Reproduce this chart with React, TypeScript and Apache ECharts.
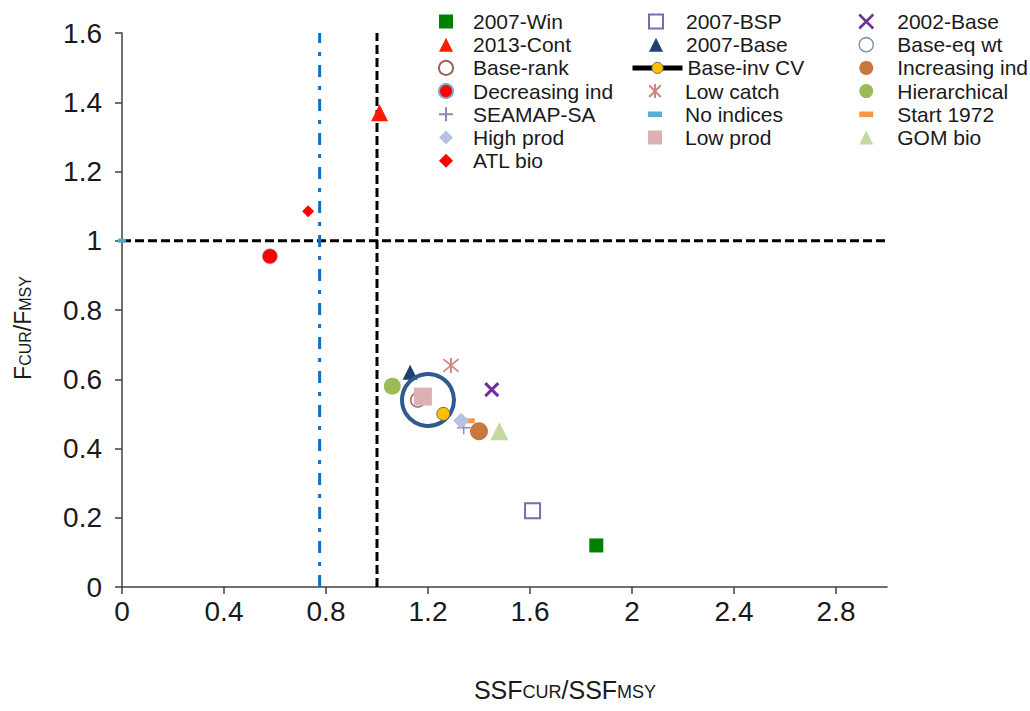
import React, { useEffect, useRef } from 'react';
import * as echarts from 'echarts';

// ---- data ----
const seriesNames = [
  '2007-Win', '2007-BSP', '2002-Base', '2013-Cont', '2007-Base', 'Base-eq wt',
  'Base-rank', 'Base-inv CV', 'Increasing ind', 'Decreasing ind', 'Low catch',
  'Hierarchical', 'SEAMAP-SA', 'No indices', 'Start 1972', 'High prod',
  'Low prod', 'GOM bio', 'ATL bio',
];
const ssfRatio = [1.86, 1.61, 1.45, 1.01, 1.13, 1.2, 1.16, 1.26, 1.4, 0.58, 1.29, 1.06, 1.34, 0.0, 1.36, 1.33, 1.18, 1.48, 0.73];
const fRatio = [0.12, 0.22, 0.57, 1.37, 0.62, 0.54, 0.54, 0.5, 0.45, 0.955, 0.64, 0.58, 0.46, 1.0, 0.48, 0.48, 0.55, 0.45, 1.085];

const xTicks = [0, 0.4, 0.8, 1.2, 1.6, 2, 2.4, 2.8];
const yTicks = [0, 0.2, 0.4, 0.6, 0.8, 1, 1.2, 1.4, 1.6];
const xMax = 3;
const yMax = 1.6;

const legendCol1 = ['2007-Win', '2013-Cont', 'Base-rank', 'Decreasing ind', 'SEAMAP-SA', 'High prod', 'ATL bio'];
const legendCol2a = ['2007-BSP', '2007-Base'];
const legendCol2b = ['Base-inv CV'];
const legendCol2c = ['Low catch', 'No indices', 'Low prod'];
const legendCol3 = ['2002-Base', 'Base-eq wt', 'Increasing ind', 'Hierarchical', 'Start 1972', 'GOM bio'];

const refSsf = 1.0;      // vertical black dashed
const refF = 1.0;        // horizontal black dashed
const msstSsf = 0.775;   // blue dash-dot

// ---- styles ----
const X_SYM = 'path://M0,0L10,10M10,0L0,10';
const STAR_SYM = 'path://M0,0L10,10M10,0L0,10M5,-1L5,11';
const PLUS_SYM = 'path://M5,0L5,10M0,5L10,5';
const DASH_SYM = 'path://M0,0L10,0L10,4L0,4Z';

const markerStyles: Record<string, any> = {
  '2007-Win': { symbol: 'rect', size: 14, itemStyle: { color: '#008000' } },
  '2007-BSP': { symbol: 'rect', size: 15, itemStyle: { color: 'rgba(255,255,255,0)', borderColor: '#7070b0', borderWidth: 2 } },
  '2002-Base': { symbol: X_SYM, size: 13, itemStyle: { color: '#7030a0', borderColor: '#7030a0', borderWidth: 3 } },
  '2013-Cont': { symbol: 'triangle', size: 17, itemStyle: { color: '#ff1a00' } },
  '2007-Base': { symbol: 'triangle', size: 15, itemStyle: { color: '#1f3f6e' } },
  'Base-eq wt': { symbol: 'circle', size: 52, itemStyle: { color: 'rgba(255,255,255,0)', borderColor: '#2f5a8e', borderWidth: 4 } },
  'Base-rank': { symbol: 'circle', size: 14, itemStyle: { color: 'rgba(255,255,255,0)', borderColor: '#a0605c', borderWidth: 1.5 } },
  'Base-inv CV': { symbol: 'circle', size: 13, itemStyle: { color: '#ffc000', borderColor: '#6b6b6b', borderWidth: 1 } },
  'Increasing ind': { symbol: 'circle', size: 18, itemStyle: { color: '#c8783c' } },
  'Decreasing ind': { symbol: 'circle', size: 15, itemStyle: { color: '#ff0000', borderColor: '#7aa6c8', borderWidth: 0.6 } },
  'Low catch': { symbol: STAR_SYM, size: 15, itemStyle: { color: '#d08484', borderColor: '#d08484', borderWidth: 1.8 } },
  'Hierarchical': { symbol: 'circle', size: 17, itemStyle: { color: '#9bbb59' } },
  'SEAMAP-SA': { symbol: PLUS_SYM, size: 13, itemStyle: { color: '#9484b8', borderColor: '#9484b8', borderWidth: 1.5 } },
  'No indices': { symbol: DASH_SYM, size: [8, 4], itemStyle: { color: '#4bacc6' } },
  'Start 1972': { symbol: DASH_SYM, size: [12, 5], itemStyle: { color: '#f79646' } },
  'High prod': { symbol: 'diamond', size: 16, itemStyle: { color: '#b4c4e0' } },
  'Low prod': { symbol: 'rect', size: 18, itemStyle: { color: '#dcb0b4' } },
  'GOM bio': { symbol: 'triangle', size: 18, itemStyle: { color: '#c4d8a0' } },
  'ATL bio': { symbol: 'diamond', size: 12, itemStyle: { color: '#ff0000' } },
};

const FONT = 'Arial, "Liberation Sans", sans-serif';
const TICK_FONT = '"Liberation Sans Narrow", "Arial Narrow", Arial, sans-serif';
const ROW_H = 23.2;
const LEGEND_TOP = 6;

function legendData(names: string[]) {
  return names.map((n) => {
    if (n === 'Base-eq wt') {
      return { name: n, itemStyle: { borderWidth: 1.5, borderColor: '#8496b0', color: 'rgba(255,255,255,0)' } };
    }
    if (n === 'Base-inv CV') {
      return { name: n, itemStyle: { borderWidth: 1, borderColor: '#6b6b6b', color: '#ffc000' }, lineStyle: { width: 5, color: '#000' } };
    }
    if (n === 'No indices') {
      return { name: n, itemStyle: { color: '#5aaed0' } };
    }
    if (n === '2002-Base') {
      return { name: n, itemStyle: { borderWidth: 2.5 } };
    }
    return { name: n };
  });
}

function makeLegend(names: string[], iconCenter: number, textStart: number, row: number, itemWidth = 14) {
  const left = iconCenter - itemWidth / 2;
  const pad = textStart - (left + itemWidth + 5);
  return {
    show: true,
    orient: 'vertical',
    left,
    top: LEGEND_TOP + ROW_H * row,
    itemWidth,
    itemHeight: 14,
    itemGap: ROW_H - 21,
    symbolKeepAspect: true,
    selectedMode: false,
    textStyle: { fontSize: 21, fontFamily: FONT, color: '#1a1a1a', lineHeight: 21, padding: [0, 0, 0, pad] },
    data: legendData(names),
  };
}

export default function App() {
  const ref = useRef<HTMLDivElement>(null);
  useEffect(() => {
    if (!ref.current) return;
    const chart = echarts.init(ref.current, undefined, { renderer: 'svg' });

    const pointSeries = seriesNames.map((name, i) => {
      const st = markerStyles[name];
      const isLine = name === 'Base-inv CV';
      return {
        name,
        type: isLine ? 'line' : 'scatter',
        data: [[ssfRatio[i], fRatio[i]]],
        symbol: st.symbol,
        symbolSize: st.size,
        itemStyle: { opacity: 1, ...st.itemStyle },
        ...(isLine ? { lineStyle: { color: '#000', width: 5 }, showSymbol: true } : {}),
        z: 5,
        silent: true,
      };
    });

    const refSeries = [
      {
        name: 'refV', type: 'line', data: [[refSsf, 0], [refSsf, yMax]], symbol: 'none',
        lineStyle: { color: '#000', width: 3, type: [9, 4] }, z: 3, silent: true,
      },
      {
        name: 'refH', type: 'line', data: [[0, refF], [xMax, refF]], symbol: 'none',
        lineStyle: { color: '#000', width: 3, type: [9, 4] }, z: 3, silent: true,
      },
      {
        name: 'msst', type: 'line', data: [[msstSsf, 0], [msstSsf, yMax]], symbol: 'none',
        lineStyle: { color: '#0a70c8', width: 3, type: [12, 9, 4, 9] }, z: 3, silent: true,
      },
    ];

    const axisTitleRich = (fill: string, big: number, small: number) => ({
      a: { fontSize: big, fontFamily: FONT, fill, color: fill, padding: [0, 0, 5, 0] },
      b: { fontSize: small, fontFamily: FONT, fill, color: fill },
    });

    chart.setOption({
      animation: false,
      backgroundColor: '#ffffff',
      grid: { left: 122, right: 143, top: 33, bottom: 124 },
      xAxis: {
        type: 'value', min: 0, max: xMax,
        axisLine: { show: true, onZero: false, lineStyle: { color: '#404040', width: 1.5 } },
        axisTick: { show: true, inside: false, length: 7, customValues: xTicks, lineStyle: { color: '#404040', width: 1.5 } },
        axisLabel: { customValues: xTicks, margin: 10, fontSize: 28, fontFamily: TICK_FONT, color: '#1a1a1a' },
        splitLine: { show: false },
      },
      yAxis: {
        type: 'value', min: 0, max: yMax,
        axisLine: { show: true, onZero: false, lineStyle: { color: '#404040', width: 1.5 } },
        axisTick: { show: true, inside: false, length: 7, customValues: yTicks, lineStyle: { color: '#404040', width: 1.5 } },
        axisLabel: { customValues: yTicks, margin: 20, fontSize: 28, fontFamily: TICK_FONT, color: '#1a1a1a' },
        splitLine: { show: false },
      },
      legend: [
        makeLegend(legendCol1, 440, 467, 0),
        makeLegend(legendCol2a, 650, 680, 0),
        makeLegend(legendCol2b, 650, 680, 2, 50),
        makeLegend(legendCol2c, 650, 680, 3),
        makeLegend(legendCol3, 860, 891, 0),
      ],
      graphic: [
        {
          type: 'text', x: 565, y: 692,
          style: {
            text: '{a|SSF}{b|CUR}{a|/SSF}{b|MSY}', rich: axisTitleRich('#1a1a1a', 25, 18),
            fontSize: 25, fontFamily: FONT, fill: '#1a1a1a',
            align: 'center', verticalAlign: 'middle',
          },
        },
        {
          type: 'text', x: 25, y: 328, rotation: Math.PI / 2,
          style: {
            text: '{a|F}{b|CUR}{a|/F}{b|MSY}', rich: axisTitleRich('#1a1a1a', 23, 16),
            fontSize: 23, fontFamily: FONT, fill: '#1a1a1a',
            align: 'center', verticalAlign: 'middle',
          },
        },
      ],
      series: [...refSeries, ...pointSeries],
    });
    return () => chart.dispose();
  }, []);
  return <div ref={ref} style={{ width: 1030, height: 711, position: 'absolute', left: 0, top: 0 }} />;
}
